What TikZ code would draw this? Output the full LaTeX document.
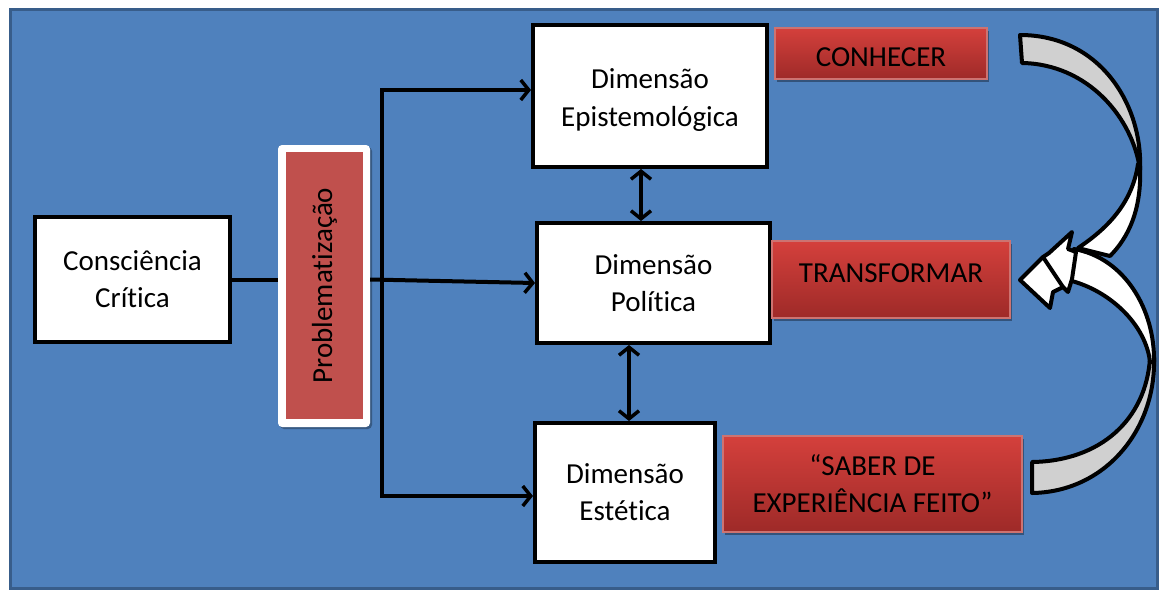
\documentclass[tikz,border=0pt]{standalone}
\usepackage{fontspec}
\setmainfont{Carlito}[Ligatures=NoCommon]
\usetikzlibrary{arrows.meta,shadows,calc}
\definecolor{bgblue}{HTML}{4F81BD}
\definecolor{bgborder}{HTML}{385D8A}
\definecolor{probred}{HTML}{C0504D}
\definecolor{redtop}{RGB}{212,64,60}
\definecolor{redbot}{RGB}{158,42,40}
\definecolor{arrowgray}{HTML}{D0D0D0}
\tikzset{
  dimbox/.style={draw=black, line width=4pt, fill=white, align=center, inner sep=0pt,
    font=\fontsize{29}{37}\selectfont},
  actbox/.style={draw=probred!80!white, line width=1.2pt, top color=redtop, bottom color=redbot,
    align=center, inner sep=0pt, font=\fontsize{29}{37}\selectfont,
    drop shadow={shadow xshift=2pt, shadow yshift=-3pt, opacity=0.35, fill=black}},
  conn/.style={line width=4pt, -{Straight Barb[length=8pt,width=20pt,line width=3.5pt]}},
  plain/.style={line width=4pt},
  dbl/.style={line width=4pt, {Straight Barb[length=8pt,width=20pt,line width=3.5pt]}-{Straight Barb[length=8pt,width=20pt,line width=3.5pt]}},
  curvedarrow/.style={draw=black, line width=4pt, line join=round},
}
\begin{document}
\begin{tikzpicture}[x=1pt,y=-1pt]
\useasboundingbox (0,0) rectangle (1159,590);
% background panel
\draw[fill=bgblue, draw=bgborder, line width=3pt] (10,9) rectangle (1157,588);

% nodes
\node[dimbox, minimum width=195pt, minimum height=125pt] (cc) at (132.5,279.5) {Consciência\\Crítica};
\node[fill=white, rounded corners=4pt, minimum width=92pt, minimum height=282pt, inner sep=0pt,
  drop shadow={shadow xshift=2pt, shadow yshift=-2pt, opacity=0.3, fill=black}] (probout) at (324,286) {};
\node[fill=probred, rotate=90, minimum width=267pt, minimum height=77pt, inner sep=0pt,
  font=\fontsize{29}{37}\selectfont] (prob) at (324.5,285.5) {Problematização};
\node[dimbox, minimum width=234pt, minimum height=142pt] (epi) at (650,96) {\raisebox{-4pt}[\height][\depth]{\begin{tabular}{@{}c@{}}Dimensão\\[1pt]Epistemológica\end{tabular}}};
\node[dimbox, minimum width=233pt, minimum height=120pt] (pol) at (653.5,283) {Dimensão\\Política};
\node[dimbox, minimum width=180pt, minimum height=139pt] (est) at (625,492.5) {Dimensão\\Estética};
\node[actbox, minimum width=212pt, minimum height=51pt] (con) at (881,53.5) {\raisebox{-4pt}[\height][\depth]{CONHECER}};
\node[actbox, minimum width=238pt, minimum height=77pt] (tra) at (891,279.5) {\raisebox{6pt}[\height][\depth]{TRANSFORMAR}};
\node[actbox, minimum width=299pt, minimum height=96pt] (sab) at (872.5,484) {“SABER DE\\EXPERIÊNCIA FEITO”};

% connectors
\coordinate (vtop) at (382,90);
\coordinate (vbot) at (382,496);
\coordinate (xa) at (641,0);
\coordinate (xb) at (629,0);
\draw[plain] (cc.east) -- (probout.west |- cc.east);
\draw[conn] (probout.east |- cc.east) -- (pol.west);
\draw[plain] (vtop) -- (vbot);
\draw[conn] ([xshift=-2pt]vtop) -- (epi.west |- vtop);
\draw[conn] ([xshift=-2pt]vbot) -- (est.west |- vbot);
\draw[dbl] (epi.south -| xa) -- (pol.north -| xa);
\draw[dbl] (pol.south -| xb) -- (est.north -| xb);

% curved arrows (shapes)
% top arrow: gray back part
\filldraw[curvedarrow, fill=arrowgray] (1020,35) .. controls (1100,35) and (1143,105) .. (1140,170)
  .. controls (1133,118) and (1088,64) .. (1022,63) -- cycle;
% top arrow: white front part
\filldraw[curvedarrow, fill=white] (1140,166) .. controls (1142,210) and (1128,238) .. (1110,256)
  -- (1078,248) .. controls (1105,230) and (1132,205) .. (1138,164) -- cycle;
% bottom arrow: gray back part
\filldraw[curvedarrow, fill=arrowgray] (1154,358) .. controls (1156,430) and (1105,492) .. (1032,493)
  -- (1032,462) .. controls (1100,461) and (1146,420) .. (1150,358) -- cycle;
% bottom arrow: white shaft
\filldraw[curvedarrow, fill=white] (1074,249) .. controls (1125,258) and (1155,310) .. (1154,362)
  -- (1150,362) .. controls (1146,325) and (1110,290) .. (1068,280) -- cycle;
% arrow head
\filldraw[curvedarrow, fill=white] (1020,280) -- (1043,257) -- (1049,253) -- (1072,232) -- (1068,249) -- (1076,252)
  -- (1072,279) -- (1068,292) -- (1063,287) -- (1053,292) -- (1050,308) -- cycle;
\draw[curvedarrow] (1043,257) -- (1063,287);
\end{tikzpicture}
\end{document}
